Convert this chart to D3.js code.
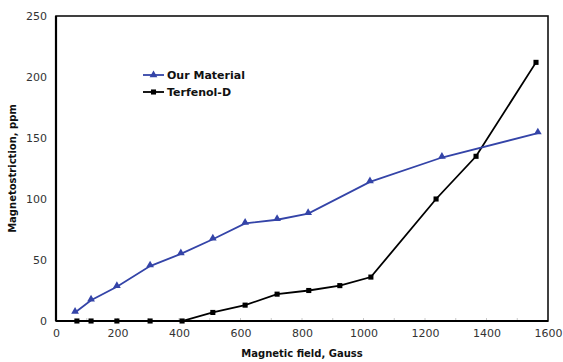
<!DOCTYPE html>
<html>
<head>
<meta charset="utf-8">
<script src="https://cdn.jsdelivr.net/npm/d3@7"></script>
<style>
  body { margin: 0; background: #fff; }
  svg { display: block; font-family: "DejaVu Sans", Verdana, sans-serif; }
</style>
</head>
<body>
<svg id="chart"></svg>
<script>
const width = 563;
const height = 362;
const margin = { top: 16, right: 15, bottom: 41, left: 56 };

// Our Material (blue, triangles)
const ourField = [62, 114, 198, 306, 406, 510, 615, 719, 820, 1021, 1255, 1567];
const ourStrain = [7, 17, 28, 45, 55, 67, 80, 83, 88, 114, 134, 154];

// Terfenol-D (black, squares)
const terField = [68, 114, 198, 306, 410, 510, 615, 719, 822, 923, 1024, 1236, 1366, 1561];
const terStrain = [0, 0, 0, 0, 0, 7, 13, 22, 25, 29, 36, 100, 135, 212];

const xTicks = [0, 200, 400, 600, 800, 1000, 1200, 1400, 1600];
const yTicks = [0, 50, 100, 150, 200, 250];

const series = [
  { name: "Our Material", color: "#3444a8", marker: "triangle",
    values: ourField.map((x, i) => ({ x, y: ourStrain[i] })) },
  { name: "Terfenol-D", color: "#000000", marker: "square",
    values: terField.map((x, i) => ({ x, y: terStrain[i] })) }
];

const svg = d3.select("#chart").attr("width", width).attr("height", height);

const x = d3.scaleLinear().domain([0, 1600]).range([margin.left, width - margin.right]);
const y = d3.scaleLinear().domain([0, 250]).range([height - margin.bottom, margin.top]);

// faint minor ticks inside the bottom axis
svg.append("g")
  .selectAll("line")
  .data(d3.range(100, 1600, 100))
  .enter()
  .append("line")
  .attr("x1", d => x(d)).attr("x2", d => x(d))
  .attr("y1", y(0)).attr("y2", y(0) - 3)
  .attr("stroke", "#bbb")
  .attr("stroke-width", 0.8);

// frame
svg.append("rect")
  .attr("x", x(0)).attr("y", y(250))
  .attr("width", x(1600) - x(0)).attr("height", y(0) - y(250))
  .attr("fill", "none")
  .attr("stroke", "#111")
  .attr("stroke-width", 1.6);

// axes (labels only)
const xAxis = svg.append("g")
  .attr("transform", `translate(0,${y(0)})`)
  .call(d3.axisBottom(x).tickValues(xTicks).tickFormat(d3.format("d")).tickSize(0).tickPadding(8));
const yAxis = svg.append("g")
  .attr("transform", `translate(${x(0)},0)`)
  .call(d3.axisLeft(y).tickValues(yTicks).tickFormat(d3.format("d")).tickSize(0).tickPadding(9));
[xAxis, yAxis].forEach(g => {
  g.select(".domain").remove();
  g.selectAll("text")
    .attr("font-family", "DejaVu Sans, sans-serif")
    .attr("font-size", 11)
    .attr("fill", "#333");
});

// bottom/left axis lines a bit heavier
svg.append("line")
  .attr("x1", x(0)).attr("x2", x(1600)).attr("y1", y(0)).attr("y2", y(0))
  .attr("stroke", "#000").attr("stroke-width", 2.2);
svg.append("line")
  .attr("x1", x(0)).attr("x2", x(0)).attr("y1", y(0)).attr("y2", y(250))
  .attr("stroke", "#000").attr("stroke-width", 2.2);

const line = d3.line().x(d => x(d.x)).y(d => y(d.y));
const triangle = d3.symbol().type(d3.symbolTriangle).size(26);
const square = d3.symbol().type(d3.symbolSquare).size(26);

// Terfenol-D first so blue stays on top where they meet
series.slice().reverse().forEach(s => {
  svg.append("path")
    .datum(s.values)
    .attr("d", line)
    .attr("fill", "none")
    .attr("stroke", s.color)
    .attr("stroke-width", 1.8);

  svg.append("g")
    .selectAll("path")
    .data(s.values)
    .enter()
    .append("path")
    .attr("d", s.marker === "triangle" ? triangle : square)
    .attr("transform", d => `translate(${x(d.x)},${y(d.y) - (s.marker === "triangle" ? 1 : 0)})`)
    .attr("fill", s.color);
});

// legend
const legend = svg.append("g").attr("transform", "translate(143,75)");
series.forEach((s, i) => {
  const g = legend.append("g").attr("transform", `translate(0,${i * 17})`);
  g.append("line")
    .attr("x1", 0).attr("x2", 21).attr("y1", 0).attr("y2", 0)
    .attr("stroke", s.color).attr("stroke-width", 1.8);
  g.append("path")
    .attr("d", s.marker === "triangle" ? triangle : square)
    .attr("transform", "translate(10.5,0)")
    .attr("fill", s.color);
  g.append("text")
    .attr("x", 24).attr("y", 4)
    .attr("font-size", 11)
    .attr("font-weight", "bold")
    .attr("fill", "#111")
    .text(s.name);
});

// axis titles
svg.append("text")
  .attr("x", (x(0) + x(1600)) / 2)
  .attr("y", 357)
  .attr("text-anchor", "middle")
  .attr("font-size", 10)
  .attr("font-weight", "bold")
  .attr("fill", "#111")
  .text("Magnetic field, Gauss");

svg.append("text")
  .attr("transform", `translate(16,${(y(0) + y(250)) / 2}) rotate(-90)`)
  .attr("text-anchor", "middle")
  .attr("font-size", 10)
  .attr("font-weight", "bold")
  .attr("fill", "#111")
  .text("Magnetostriction, ppm");
</script>
</body>
</html>
